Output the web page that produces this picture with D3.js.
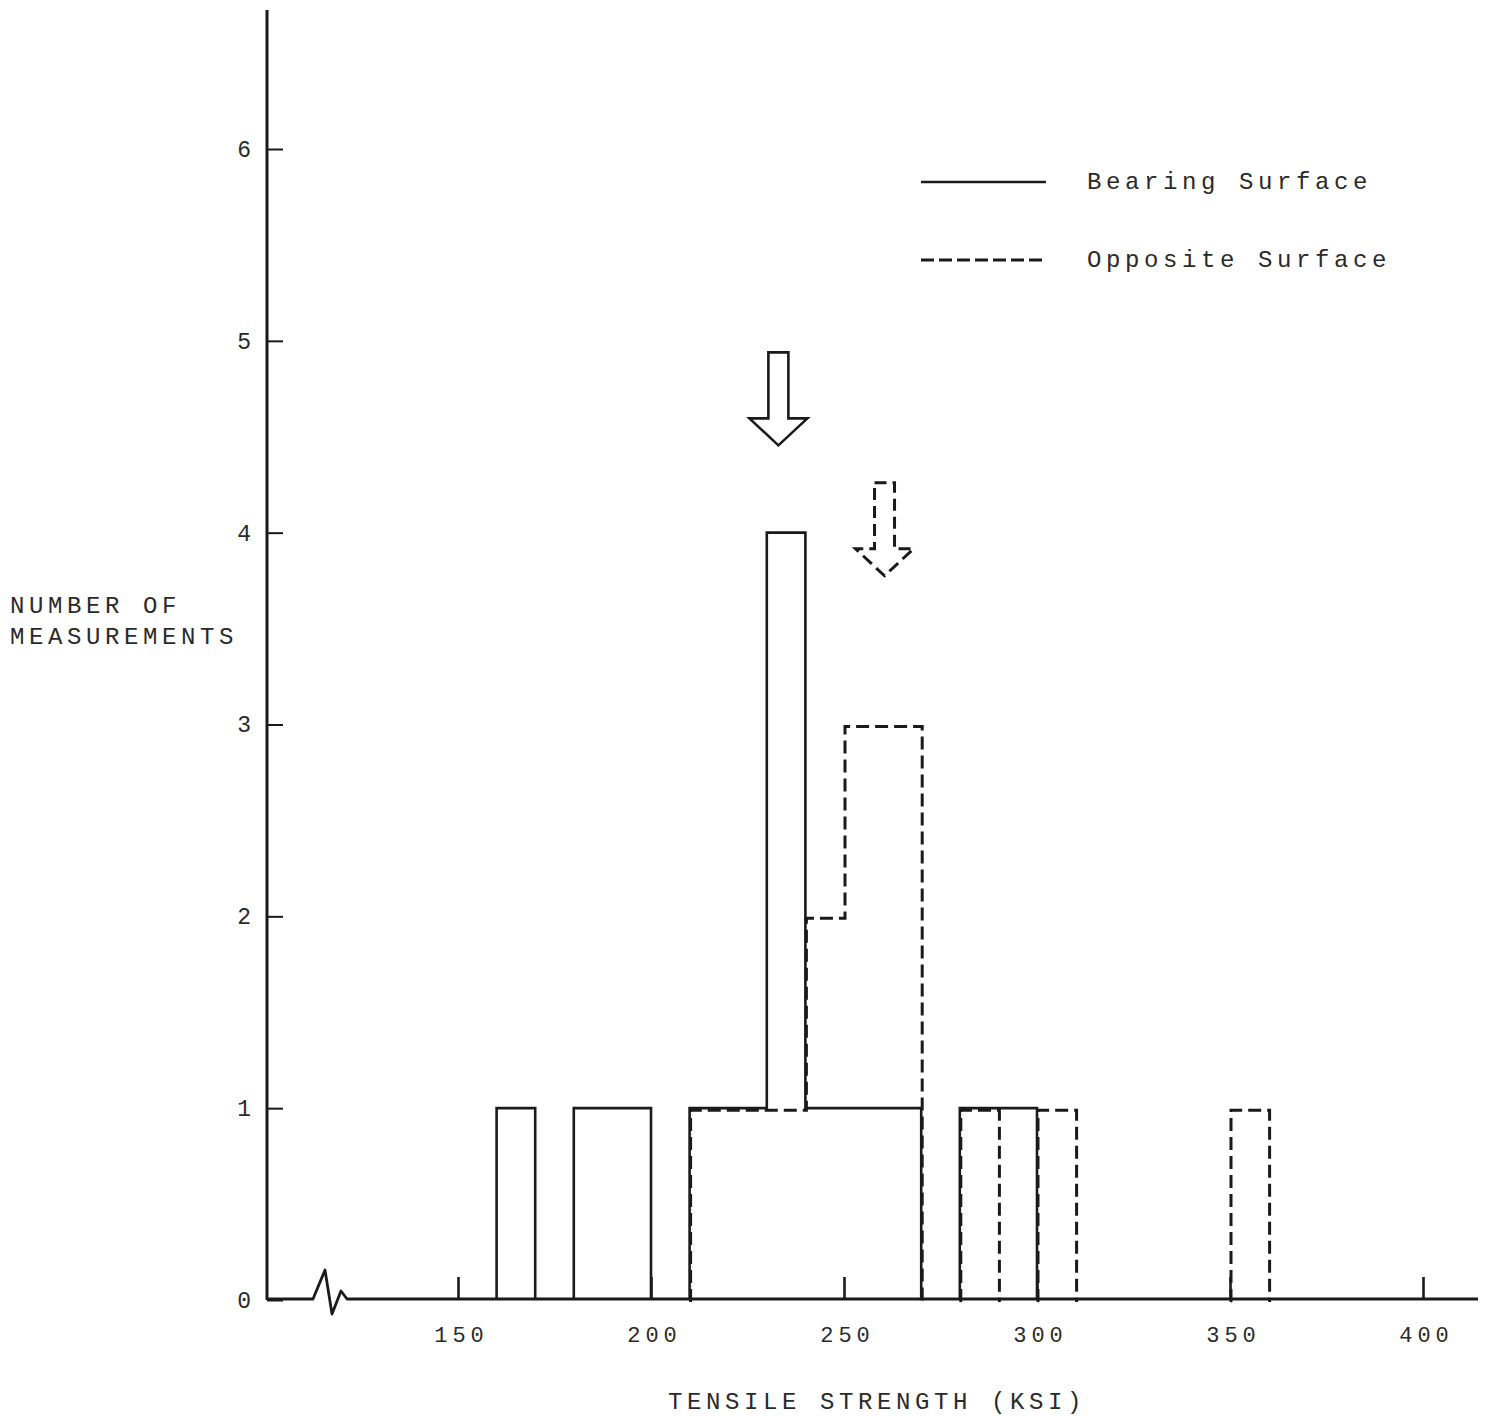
<!DOCTYPE html>
<html>
<head>
<meta charset="utf-8">
<script src="https://cdn.jsdelivr.net/npm/d3@7"></script>
<style>
  html, body { margin: 0; padding: 0; background: #fff; }
  text { font-family: "Liberation Mono", "DejaVu Sans Mono", monospace; fill: #2a2a2a; }
</style>
</head>
<body>
<svg id="chart" width="1486" height="1416"></svg>
<script>
// ---- Data ----
const binStarts = [150,160,170,180,190,200,210,220,230,240,250,260,270,280,290,300,310,320,330,340,350,360];
const binWidth = 10;
const bearingCounts  = [0,1,0,1,1,0,1,1,4,1,1,1,0,1,1,0,0,0,0,0,0,0];
const oppositeCounts = [0,0,0,0,0,0,1,1,1,2,3,3,0,1,0,1,0,0,0,0,1,0];
const seriesNames = ["Bearing Surface", "Opposite Surface"];
const meanValues = [233, 260.5];        // arrows (ksi)
const arrowTops  = [4.94, 4.26];        // arrow tops (count units)
const xTickValues = [150, 200, 250, 300, 350, 400];
const yTickValues = [0, 1, 2, 3, 4, 5, 6];
const xTitle = "TENSILE STRENGTH (KSI)";
const yTitle = ["NUMBER OF", "MEASUREMENTS"];

// ---- Scales ----
const svg = d3.select("#chart");
const x = d3.scaleLinear().domain([100, 400]).range([265, 1423]);
const y = d3.scaleLinear().domain([0, 6]).range([1300, 149]);
const ink = "#1a1a1a";

// ---- Histogram outlines ----
function runs(counts) {
  const out = [];
  let cur = null;
  counts.forEach((c, i) => {
    if (c > 0) {
      if (!cur) cur = [];
      cur.push({x: binStarts[i], c});
    } else if (cur) { out.push(cur); cur = null; }
  });
  if (cur) out.push(cur);
  return out.map(r => {
    const pts = [{x: r[0].x, c: 0}].concat(r);
    pts.push({x: r[r.length - 1].x + binWidth, c: 0});
    return pts;
  });
}
const line = d3.line().x(d => x(d.x)).y(d => y(d.c)).curve(d3.curveStepAfter);

const gOpp = svg.append("g").attr("transform", "translate(1,2)");
gOpp.selectAll("path").data(runs(oppositeCounts)).join("path")
  .attr("d", line).attr("fill", "none").attr("stroke", ink)
  .attr("stroke-width", 3).attr("stroke-dasharray", "13,6");

const gBear = svg.append("g");
gBear.selectAll("path").data(runs(bearingCounts)).join("path")
  .attr("d", line).attr("fill", "none").attr("stroke", ink)
  .attr("stroke-width", 2.6);

// ---- Mean arrows ----
function arrowPath(mx, topC) {
  const cx = x(mx), top = y(topC);
  const sw = 10, hw = 29, shaft = 66, head = 27;
  return `M${cx - sw},${top} L${cx + sw},${top} L${cx + sw},${top + shaft} L${cx + hw},${top + shaft} ` +
         `L${cx},${top + shaft + head} L${cx - hw},${top + shaft} L${cx - sw},${top + shaft} Z`;
}
svg.selectAll("path.arrow").data(meanValues).join("path")
  .attr("class", "arrow")
  .attr("d", (d, i) => arrowPath(d, arrowTops[i]))
  .attr("fill", "none").attr("stroke", ink)
  .attr("stroke-width", (d, i) => i === 0 ? 2.6 : 3)
  .attr("stroke-dasharray", (d, i) => i === 0 ? null : "12,6");

// ---- Axes ----
const yAxis = d3.axisLeft(y).tickValues(yTickValues).tickSize(-16).tickPadding(16)
  .tickFormat(d3.format("d"));
const gy = svg.append("g").attr("transform", "translate(267,0)").call(yAxis);
gy.select(".domain").remove();
gy.selectAll(".tick line").attr("stroke", ink).attr("stroke-width", 2);
gy.selectAll(".tick text").attr("font-size", 23).attr("fill", "#2a2a2a");
svg.append("line").attr("x1", 267).attr("x2", 267).attr("y1", 10).attr("y2", 1300)
  .attr("stroke", ink).attr("stroke-width", 3);

const xAxis = d3.axisBottom(x).tickValues(xTickValues).tickSize(-22).tickPadding(27)
  .tickFormat(d3.format("d"));
const gx = svg.append("g").attr("transform", "translate(0,1299)").call(xAxis);
gx.select(".domain").remove();
gx.selectAll(".tick line").attr("stroke", ink).attr("stroke-width", 2.6);
gx.selectAll(".tick text").attr("font-size", 22).attr("fill", "#2a2a2a")
  .style("letter-spacing", "5px").attr("dx", 3);

// x-axis line with break symbol
svg.append("path")
  .attr("d", "M267,1299 L313,1299 L325,1270 L332,1314 L341,1291 L347,1299 L1478,1299")
  .attr("fill", "none").attr("stroke", ink).attr("stroke-width", 2.8)
  .attr("stroke-linejoin", "round");

// ---- Titles ----
const tSize = 24, tSpace = "4.6px";
svg.append("text").attr("x", 668).attr("y", 1409).attr("font-size", tSize)
  .style("letter-spacing", tSpace).text(xTitle);
svg.selectAll("text.ytitle").data(yTitle).join("text")
  .attr("class", "ytitle").attr("x", 10).attr("y", (d, i) => 613 + i * 31)
  .attr("font-size", tSize).style("letter-spacing", tSpace).text(d => d);

// ---- Legend ----
const legend = svg.append("g");
seriesNames.forEach((name, i) => {
  const ly = 182 + i * 78;
  legend.append("line").attr("x1", 921).attr("x2", 1046).attr("y1", ly).attr("y2", ly)
    .attr("stroke", ink).attr("stroke-width", i === 0 ? 2.6 : 3)
    .attr("stroke-dasharray", i === 0 ? null : "13,5");
  legend.append("text").attr("x", 1087).attr("y", ly + 7).attr("font-size", tSize)
    .style("letter-spacing", tSpace).text(name);
});
</script>
</body>
</html>
